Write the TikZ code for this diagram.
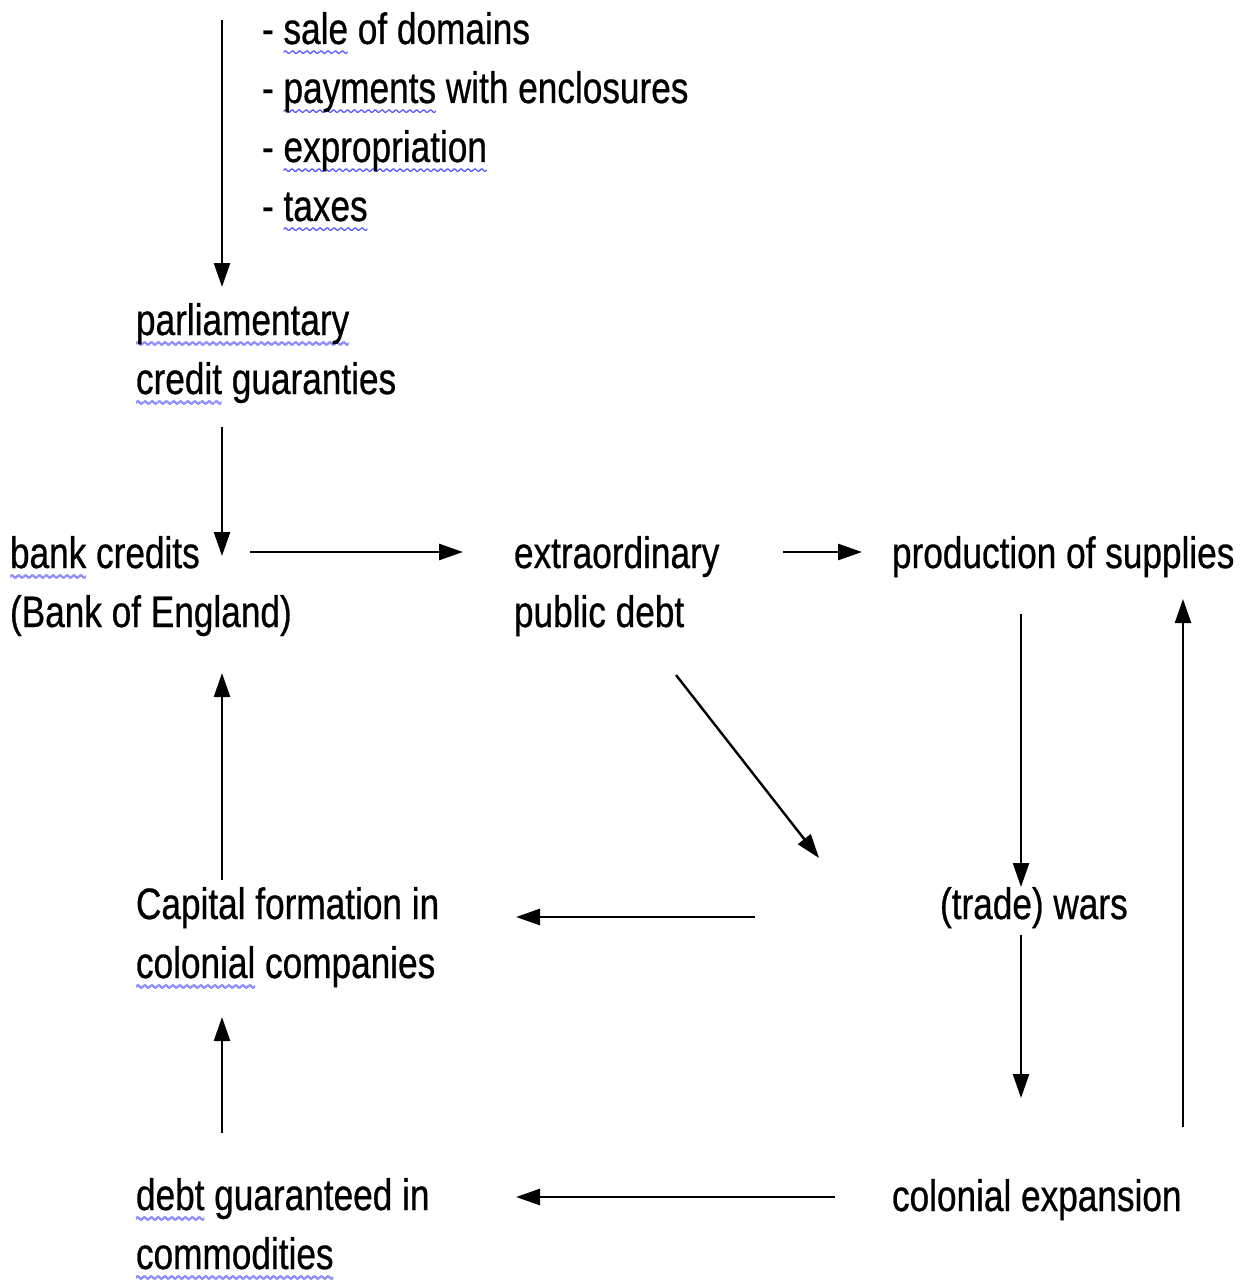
\documentclass[tikz,border=0pt]{standalone}
\usepackage{fontspec}
\setmainfont{Liberation Sans}[FakeStretch=0.80,FakeBold=0.6]
\usetikzlibrary{arrows.meta}
\font\wavefnt=lasy10 at 10pt
\definecolor{spellblue}{RGB}{0,0,255}
\newcommand\wvrow[2]{\rlap{\color{spellblue}\lower#2\hbox to #1{\xleaders\hbox{\wavefnt\char58}\hfil}}}
\newcommand\wv[1]{\leavevmode\setbox0\hbox{#1}\wvrow{\wd0}{10.6pt}\wvrow{\wd0}{11.3pt}\wvrow{\wd0}{12pt}\box0{}}
\begin{document}
\begin{tikzpicture}[x=1pt,y=-1pt,
  lbl/.style={anchor=base west, inner sep=0pt, outer sep=0pt, align=left,
    font=\fontsize{44}{59}\selectfont},
  arr/.style={line width=2.4pt, -{Triangle[length=24pt,width=16pt]}},
  harr/.style={arr, line width=2.8pt}]
\useasboundingbox (0,0) rectangle (1247,1281);

% text nodes (anchored at the baseline of their last line)
\node[lbl] (list) at (262,221) {- \wv{sale} of domains\\- \wv{payments} with enclosures\\- \wv{expropriation}\\- \wv{taxes}};
\node[lbl] (parl) at (136,394) {\wv{parliamentary}\\\wv{credit} guaranties};
\node[lbl] (bank) at (10,627) {\wv{bank} credits\\(Bank of England)};
\node[lbl] (extra) at (514,627) {extraordinary\\public debt};
\node[lbl] (prod) at (892,568) {production of supplies};
\node[lbl] (capital) at (136,978) {Capital formation in\\\wv{colonial} companies};
\node[lbl] (wars) at (940,919) {(trade) wars};
\node[lbl] (colexp) at (892,1211) {colonial expansion};
\node[lbl] (debt) at (136,1269) {\wv{debt} guaranteed in\\\wv{commodities}};

% connector end points
\coordinate (a1s) at (222,20);   \coordinate (a1e) at (222,287);
\coordinate (a2s) at (222,427);  \coordinate (a2e) at (222,556);
\coordinate (a3s) at (250,552);  \coordinate (a3e) at (463,552);
\coordinate (a4s) at (783,552);  \coordinate (a4e) at (862,552);
\coordinate (a5s) at (676,675);  \coordinate (a5e) at (819,858);
\coordinate (a6s) at (1021,614); \coordinate (a6e) at (1021,887);
\coordinate (a7s) at (1021,935); \coordinate (a7e) at (1021,1098);
\coordinate (a8s) at (1183,1127);\coordinate (a8e) at (1183,599);
\coordinate (a9s) at (755,917);  \coordinate (a9e) at (516,917);
\coordinate (a10s) at (222,880); \coordinate (a10e) at (222,673);
\coordinate (a11s) at (222,1133);\coordinate (a11e) at (222,1017);
\coordinate (a12s) at (835,1197);\coordinate (a12e) at (516,1197);

\draw[arr] (a1s) -- (a1e);
\draw[arr] (a2s) -- (a2e);
\draw[harr] (a3s) -- (a3e);
\draw[harr] (a4s) -- (a4e);
\draw[arr] (a5s) -- (a5e);
\draw[arr] (a6s) -- (a6e);
\draw[arr] (a7s) -- (a7e);
\draw[arr] (a8s) -- (a8e);
\draw[harr] (a9s) -- (a9e);
\draw[arr] (a10s) -- (a10e);
\draw[arr] (a11s) -- (a11e);
\draw[harr] (a12s) -- (a12e);
\end{tikzpicture}
\end{document}
